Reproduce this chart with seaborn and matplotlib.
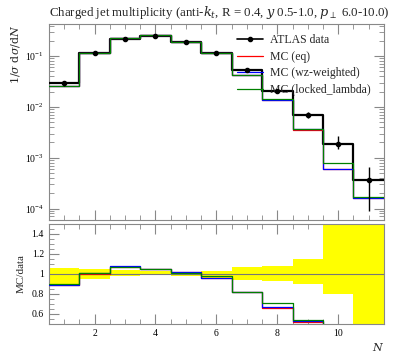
import numpy as np
import pandas as pd
import matplotlib
matplotlib.use("Agg")
import matplotlib.pyplot as plt
from matplotlib.ticker import MultipleLocator, FixedLocator, LogLocator, NullFormatter
from matplotlib.lines import Line2D
import seaborn as sns

# ---- data ----
edges = [0.5, 1.5, 2.5, 3.5, 4.5, 5.5, 6.5, 7.5, 8.5, 9.5, 10.5, 11.5]
n_centers = [1, 2, 3, 4, 5, 6, 7, 8, 9, 10, 11]
data_vals = [0.029, 0.116, 0.215, 0.25, 0.19, 0.118, 0.053, 0.0206, 0.0068, 0.0019, 3.7e-4]
data_err_up = [0.0018, 0.006, 0.009, 0.0065, 0.0029, 0.0031, 0.0036, 0.0017, 0.001, 0.0008, 2.8e-4]
data_err_dn = [0.0029, 0.0055, 0.005, 0.0018, 0.0038, 0.0059, 0.0034, 0.0015, 0.0007, 0.0004, 2.8e-4]
mc_eq = [0.0258, 0.116, 0.230, 0.2625, 0.193, 0.113, 0.0435, 0.0136, 0.00355, 6.1e-4, 1.6e-4]
mc_wz = [0.0257, 0.1165, 0.231, 0.2630, 0.193, 0.1135, 0.0434, 0.0138, 0.00362, 6.0e-4, 1.6e-4]
mc_locked = [0.0262, 0.117, 0.229, 0.2612, 0.192, 0.115, 0.0435, 0.0146, 0.0037, 7.9e-4, 1.7e-4]
series_names = ["MC (eq)", "MC (wz-weighted)", "MC (locked_lambda)"]
series_colors = ["red", "blue", "green"]

sns.set_style("ticks")
plt.rcParams["font.family"] = ["Liberation Serif", "DejaVu Serif"]
plt.rcParams["mathtext.fontset"] = "dejavuserif"
plt.rcParams["font.size"] = 8

fig = plt.figure(figsize=(3.97, 3.58), dpi=100)
ax = fig.add_axes([0.123, 0.386, 0.844, 0.547])
rax = fig.add_axes([0.123, 0.095, 0.844, 0.280])

def step(ax, vals, color, lw, label=None, zorder=2):
    sns.histplot(x=n_centers, weights=vals, bins=edges, element="step", fill=False,
                 color=color, linewidth=lw, ax=ax, label=label, zorder=zorder)

# main panel
step(ax, data_vals, "black", 1.6, zorder=3)
for vals, name, col in zip([mc_eq, mc_wz, mc_locked], series_names, series_colors):
    step(ax, vals, col, 0.9, zorder=4)
ax.errorbar(n_centers, data_vals, yerr=[data_err_dn, data_err_up], fmt="o", color="black",
            ms=3, elinewidth=1, capsize=0, zorder=5)
ax.set_yscale("log")
ax.set_xlim(0.5, 11.5)
ax.set_ylim(6e-5, 0.43)
ax.set_ylabel(r"$1/\sigma\ \mathrm{d}\sigma/\mathrm{d}N$", loc="top", labelpad=2)
ax.set_xlabel("")
ax.tick_params(labelbottom=False)
ax.set_title(r"Charged jet multiplicity (anti-$k_t$, R = 0.4, $y$ 0.5-1.0, $p_\perp$ 6.0-10.0)",
             loc="left", fontsize=9.3, pad=6)

# legend
handles = [Line2D([], [], color="black", marker="o", ms=3, lw=1.2)] + \
          [Line2D([], [], color=c, lw=0.9) for c in series_colors]
ax.legend(handles, ["ATLAS data"] + series_names, loc="upper right", frameon=False,
          fontsize=8.5, handlelength=2.2, handletextpad=0.6, labelspacing=0.38,
          borderaxespad=0.3, bbox_to_anchor=(0.985, 0.99))

# ratio panel
d = np.array(data_vals)
band_up = list(1 + np.array(data_err_up) / d)
band_dn = list(1 - np.array(data_err_dn) / d)
band_up[9], band_dn[9] = 1.6, 0.80
band_up[10], band_dn[10] = 1.6, 0.4
rax.fill_between(edges, band_dn + [band_dn[-1]], band_up + [band_up[-1]], step="post",
                 color="#ffff00", lw=0, zorder=1)
rax.axhline(1.0, color="#777777", lw=0.8, zorder=2)
for vals, col in zip([mc_eq, mc_wz, mc_locked], series_colors):
    step(rax, list(np.array(vals) / d), col, 0.9, zorder=4)
rax.set_xlim(0.5, 11.5)
rax.set_ylim(0.5, 1.5)
rax.set_ylabel("MC/data", labelpad=4)
rax.set_xlabel(r"$N$", loc="right", labelpad=2)
rax.yaxis.set_major_locator(FixedLocator([0.6, 0.8, 1.0, 1.2, 1.4]))
rax.set_yticklabels(["0.6", "0.8", "1", "1.2", "1.4"])
rax.yaxis.set_minor_locator(MultipleLocator(0.05))

for a in (ax, rax):
    a.xaxis.set_major_locator(MultipleLocator(2))
    a.xaxis.set_minor_locator(MultipleLocator(0.5))
    a.tick_params(which="both", direction="in", top=True, right=True, colors="#888888",
                  labelcolor="black", labelsize=7)
    a.tick_params(which="major", length=7)
    a.tick_params(which="minor", length=3.5)
    for s in a.spines.values():
        s.set_color("#888888")
        s.set_linewidth(0.8)
ax.yaxis.set_minor_locator(LogLocator(base=10, subs=np.arange(2, 10)))
ax.yaxis.set_minor_formatter(NullFormatter())

fig.savefig("out.png", dpi=100)
